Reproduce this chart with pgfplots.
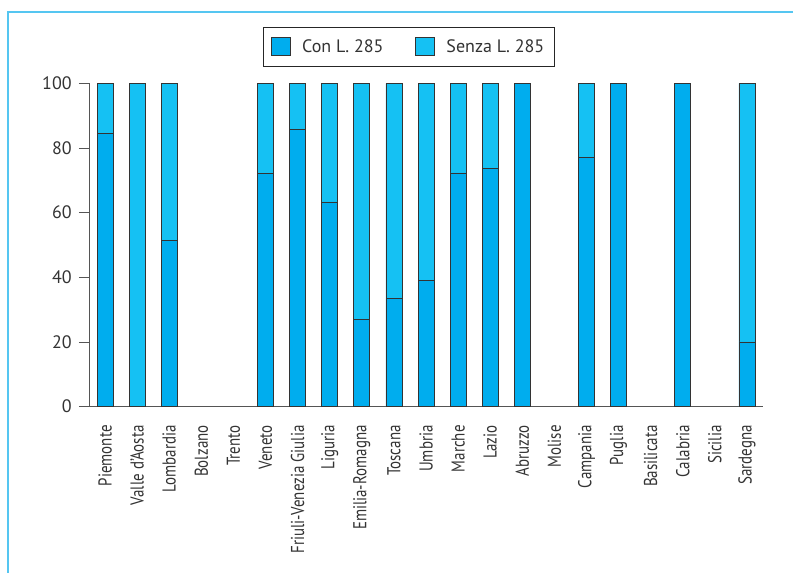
\documentclass[border=0pt]{standalone}
\usepackage{fontspec}
\setmainfont{PT Sans}
\newfontfamily\narrowfont{PT Sans}[FakeStretch=0.8]
\usepackage{pgfplots}
\usepackage{pgfplotstable}
\pgfplotsset{compat=1.18}
\definecolor{con}{HTML}{00ADEE}
\definecolor{senza}{HTML}{15C1F3}
\definecolor{framec}{HTML}{55C6F1}
\definecolor{axisgray}{HTML}{555555}
\definecolor{txt}{HTML}{333333}
\pgfplotstableread{
x con senza
0 84.5 15.5
1 0 100
2 51.4 48.6
5 72.0 28.0
6 85.8 14.2
7 63.3 36.7
8 27.1 72.9
9 33.4 66.6
10 39.0 61.0
11 72.3 27.7
12 73.8 26.2
13 100 0
15 77.0 23.0
16 100 0
18 100 0
20 20.0 80.0
}\datatable
\begin{document}
\begin{tikzpicture}
\useasboundingbox (0,0) rectangle (594.75pt,-429pt);
\draw[framec, line width=1.5pt] (6pt,-440pt) -- (6pt,-9pt) -- (600pt,-9pt);
\begin{axis}[
 at={(66.75pt,-305pt)}, anchor=south west,
 scale only axis, width=505.5pt, height=242.55pt,
 ybar stacked, bar width=12pt,
 xmin=-0.5, xmax=20.5, ymin=0, ymax=100,
 axis x line*=bottom, axis y line*=left,
 axis line style={axisgray, line width=0.6pt},
 tick align=outside,
 xtick={0,...,20},
 xticklabels={Piemonte,Valle d’Aosta,Lombardia,Bolzano,Trento,Veneto,Friuli-Venezia Giulia,Liguria,Emilia-Romagna,Toscana,Umbria,Marche,Lazio,Abruzzo,Molise,Campania,Puglia,Basilicata,Calabria,Sicilia,Sardegna},
 x tick label style={rotate=90, anchor=east, text=txt, font=\narrowfont\fontsize{14}{16}\selectfont, xshift=-3pt},
 xtick style={draw=none},
 minor xtick={-0.5,0.5,...,20.5},
 minor tick length=6.75pt,
 minor x tick style={axisgray, line width=0.6pt},
 ytick={0,20,...,100},
 major tick length=7.5pt,
 y tick style={axisgray, line width=0.6pt},
 y tick label style={text=txt, font=\fontsize{13.5}{15}\selectfont, xshift=-2pt},
 /pgf/number format/assume math mode=true,
 legend columns=2,
 legend style={at={(0.4748,1.174)}, anchor=north, draw=black!85, line width=0.6pt,
   text=txt, font=\fontsize{13.5}{15}\selectfont, inner xsep=6pt, inner ysep=7pt,
   /tikz/every even column/.append style={column sep=22pt}},
 legend image code/.code={\draw[#1, draw=txt, line width=0.5pt] (0pt,-6.75pt) rectangle (14.25pt,6.75pt); \path[draw=none, fill=none] (0pt,0pt) -- (21pt,0pt);},
]
\addplot[fill=con, draw=txt, line width=0.5pt] table[x=x,y=con]{\datatable};
\addplot[fill=senza, draw=txt, line width=0.5pt] table[x=x,y=senza]{\datatable};
\legend{Con L. 285, Senza L. 285}
\end{axis}
\end{tikzpicture}
\end{document}
